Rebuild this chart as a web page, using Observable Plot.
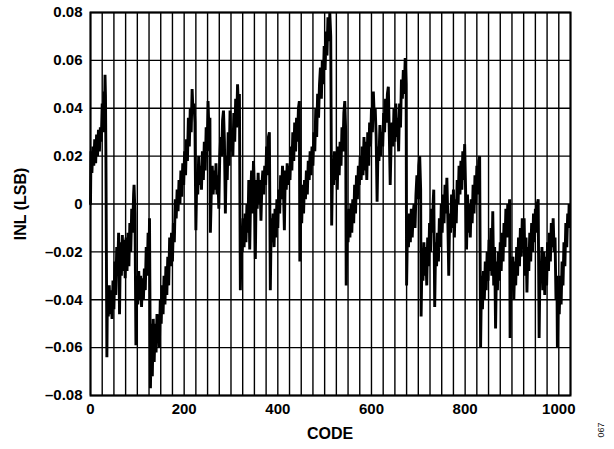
<!DOCTYPE html>
<html><head><meta charset="utf-8">
<script src="https://cdn.jsdelivr.net/npm/d3@7"></script>
<script src="https://cdn.jsdelivr.net/npm/@observablehq/plot@0.6"></script>
<style>
html,body{margin:0;padding:0;background:#fff;}
#chart{position:relative;width:614px;height:449px;}
</style></head><body><div id="chart"></div>
<script>
// INL (LSB) versus CODE
const code = [
  0,1,3,5,7,9,11,13,15,17,
  19,21,23,25,27,29,30,31,32,33,
  35,36,38,40,42,44,46,48,50,52,
  54,56,58,60,62,64,66,68,70,72,
  74,76,78,80,82,84,86,88,90,92,
  93,95,97,99,101,103,105,107,109,111,
  113,115,117,119,121,123,125,126,128,130,
  132,134,136,138,140,142,144,146,147,149,
  151,153,155,157,159,161,163,165,167,169,
  171,173,175,177,179,181,183,185,187,189,
  191,193,195,197,199,201,203,205,207,209,
  211,213,215,217,219,221,223,225,227,229,
  231,233,235,237,239,241,243,245,247,249,
  251,253,255,256,258,260,262,264,266,268,
  270,272,274,276,278,280,282,284,286,288,
  290,292,294,296,298,300,302,304,306,308,
  310,312,314,316,318,320,322,324,326,328,
  330,332,334,336,338,340,342,344,346,348,
  350,352,354,356,358,360,362,364,366,368,
  370,372,374,376,378,380,382,384,386,388,
  390,392,394,396,398,400,402,404,406,408,
  410,412,414,416,418,420,422,424,426,428,
  430,432,434,436,438,440,442,444,446,447,
  449,451,453,455,457,459,461,463,465,467,
  469,471,473,475,477,479,481,483,485,487,
  489,491,493,495,497,499,501,503,505,507,
  509,511,513,515,517,519,521,523,525,527,
  529,531,533,535,537,539,541,543,545,546,
  548,550,552,554,556,558,560,562,564,566,
  568,570,572,574,576,578,580,582,584,586,
  588,590,592,594,596,598,600,602,604,606,
  608,610,612,614,616,618,620,622,624,626,
  628,630,632,634,636,638,640,642,644,646,
  648,650,652,654,656,658,660,662,664,666,
  668,670,672,674,675,677,679,681,683,685,
  687,689,691,693,695,697,699,701,703,705,
  706,708,710,712,714,716,718,720,722,724,
  726,728,730,732,733,735,737,739,741,743,
  745,747,749,751,753,755,757,759,761,763,
  765,767,769,771,773,775,777,779,781,783,
  785,787,789,791,793,795,797,799,801,803,
  805,807,809,811,813,815,817,819,821,823,
  825,827,829,831,833,835,837,839,841,843,
  845,847,849,851,853,855,857,859,861,863,
  865,867,869,871,873,875,877,879,881,883,
  885,887,889,891,893,895,896,898,900,902,
  904,906,908,910,912,914,916,918,920,922,
  924,926,928,930,932,934,936,938,940,942,
  944,946,948,950,952,954,956,958,960,962,
  964,966,968,970,972,974,976,978,980,982,
  984,986,988,990,992,994,996,997,999,1001,
  1003,1005,1007,1009,1011,1013,1015,1017,1019,1021,
  1022,1023
];
const inl = [
  0,0.022,0.013,0.024,0.016,0.027,0.017,0.029,0.020,0.031,
  0.022,0.032,0.026,0.042,0.030,0.047,0.040,0.054,0.045,0.017,
  -0.064,-0.038,-0.047,-0.034,-0.046,-0.036,-0.048,-0.032,-0.044,-0.024,
  -0.038,-0.018,-0.030,-0.012,-0.046,-0.016,-0.030,-0.013,-0.028,-0.015,
  -0.031,-0.014,-0.028,-0.012,-0.026,-0.008,-0.020,-0.002,-0.012,0.004,
  0.008,-0.004,-0.059,-0.030,-0.042,-0.028,-0.040,-0.030,-0.043,-0.031,
  -0.040,-0.027,-0.036,-0.018,-0.030,-0.012,-0.024,-0.006,-0.077,-0.050,
  -0.072,-0.048,-0.066,-0.050,-0.062,-0.046,-0.058,-0.052,-0.060,-0.040,
  -0.050,-0.034,-0.046,-0.030,-0.042,-0.026,-0.038,-0.022,-0.034,-0.014,
  -0.026,-0.012,-0.024,-0.008,-0.016,0.002,-0.006,0.006,-0.003,0.010,
  0.000,0.014,0.003,0.017,0.008,0.022,0.012,0.027,0.018,0.036,
  0.024,0.040,0.030,0.048,0.038,0.042,0.034,-0.011,0.012,0.004,
  0.020,0.008,0.016,0.006,0.022,0.010,0.026,0.014,0.032,0.022,
  0.043,0.030,0.036,-0.012,0.005,0.016,0.004,0.014,0.006,0.017,
  0.004,0.012,-0.002,0.020,0.028,0.020,0.035,0.039,0.026,-0.004,
  0.020,0.010,0.030,0.016,0.039,0.022,0.030,0.020,0.038,0.026,
  0.044,0.032,0.050,0.040,0.046,-0.036,-0.012,-0.020,-0.006,-0.018,
  -0.004,-0.016,0.000,-0.012,0.010,-0.019,0.004,0.014,-0.004,0.018,
  0.006,-0.023,0.010,-0.002,0.013,0.000,0.010,-0.007,0.008,0.014,
  0.004,0.016,0.008,0.024,0.012,0.028,0.030,-0.036,-0.006,-0.016,
  -0.004,-0.018,-0.002,-0.014,0.002,-0.010,0.006,-0.004,0.012,0.002,
  0.016,0.006,-0.011,0.014,0.006,0.017,0.008,0.016,0.010,0.024,
  0.014,0.030,0.018,0.034,0.022,0.036,0.026,0.040,0.043,-0.024,
  0.000,-0.008,0.008,-0.004,0.010,0.002,0.014,0.004,0.018,0.010,
  0.022,0.012,0.024,0.016,0.030,0.022,0.040,0.028,0.046,0.036,
  0.050,0.057,0.044,0.060,0.050,0.066,0.056,0.072,0.062,0.078,
  0.068,0.080,0.070,-0.009,0.018,0.008,0.022,0.010,0.020,0.006,
  0.024,0.012,0.026,0.016,0.032,0.022,0.038,0.043,0.030,-0.034,
  -0.006,-0.016,-0.002,-0.014,0.000,-0.012,0.002,-0.008,0.008,-0.004,
  0.012,0.002,0.016,0.008,0.020,0.010,0.024,0.012,0.028,0.014,
  0.026,0.010,0.030,0.016,0.034,0.024,0.040,0.030,0.047,0.036,
  0.040,0.028,0.001,0.024,0.018,0.033,0.020,0.030,0.024,0.038,
  0.030,0.044,0.034,0.046,0.049,0.030,0.008,0.026,0.034,0.024,
  0.040,0.026,0.042,0.028,0.036,0.022,0.042,0.032,0.052,0.044,
  0.056,0.046,0.061,0.050,-0.034,-0.008,-0.018,-0.004,-0.016,-0.002,
  -0.014,-0.004,0.000,-0.010,0.004,0.012,0.002,0.016,0.020,0.006,
  -0.047,-0.020,-0.032,-0.016,-0.030,-0.018,-0.034,-0.014,-0.026,-0.008,
  -0.020,-0.002,-0.012,0.002,0.006,-0.043,-0.016,-0.026,-0.012,-0.024,
  -0.006,-0.018,0.000,-0.012,0.004,-0.008,0.008,-0.004,0.011,-0.006,
  -0.030,-0.004,-0.012,0.004,-0.010,0.006,-0.014,0.002,-0.008,0.010,
  0.000,0.016,0.004,0.018,0.006,0.022,0.010,0.025,0.006,-0.019,
  0.004,-0.012,0.000,-0.014,0.002,-0.008,0.008,-0.004,0.012,0.000,
  0.016,0.004,0.018,0.020,-0.060,-0.030,-0.044,-0.028,-0.040,-0.024,
  -0.036,-0.020,-0.032,-0.015,-0.028,-0.010,-0.030,-0.003,-0.034,-0.018,
  -0.052,-0.024,-0.036,-0.020,-0.032,-0.016,-0.028,-0.012,-0.024,-0.008,
  -0.018,-0.002,-0.014,0.000,-0.008,0.002,-0.056,-0.024,-0.036,-0.022,
  -0.040,-0.024,-0.034,-0.018,-0.030,-0.014,-0.026,-0.010,-0.022,-0.006,
  -0.016,-0.006,-0.030,-0.014,-0.037,-0.018,-0.028,-0.012,-0.024,-0.008,
  -0.020,-0.004,-0.016,-0.002,-0.012,0.000,0.002,-0.056,-0.024,-0.032,
  -0.018,-0.036,-0.020,-0.038,-0.022,-0.034,-0.016,-0.028,-0.012,-0.024,
  -0.008,-0.018,-0.006,-0.020,-0.014,-0.040,-0.030,-0.060,-0.036,-0.046,
  -0.030,-0.042,-0.024,-0.034,-0.016,-0.026,-0.008,-0.018,-0.004,-0.010,
  0.000,-0.004
];
const xTicks = [0, 200, 400, 600, 800, 1000];
const yTicks = [-0.08, -0.06, -0.04, -0.02, 0, 0.02, 0.04, 0.06, 0.08];
const xGridLines = [0,25,50,75,100,125,150,175,200,225,250,275,300,325,350,375,400,425,450,475,500,525,550,575,600,625,650,675,700,725,750,775,800,825,850,875,900,925,950,975,1000,1025];
const xTitle = "CODE";
const yTitle = "INL (LSB)";
const figureId = "067";

const data = code.map((c, i) => ({code: c, inl: inl[i]}));
const fmtY = d => d === 0 ? "0" : (d < 0 ? "\u2013" : "") + Math.abs(d).toFixed(2);
const FONT = "'Liberation Sans', Arial, Helvetica, sans-serif";

const svg = Plot.plot({
  width: 614, height: 449,
  marginLeft: 90, marginRight: 44, marginTop: 12, marginBottom: 54,
  style: {fontFamily: FONT, fontSize: "15px", fontWeight: "bold", background: "#fff", color: "#000", overflow: "visible"},
  x: {domain: [0, 1025]},
  y: {domain: [-0.08, 0.08]},
  marks: [
    Plot.ruleX(xGridLines, {stroke: "#000", strokeWidth: 1.4}),
    Plot.ruleY(yTicks, {stroke: "#000", strokeWidth: 1.4}),
    Plot.line(data, {x: "code", y: "inl", stroke: "#000", strokeWidth: 2.9, strokeLinejoin: "miter", strokeMiterlimit: 2}),
    Plot.frame({stroke: "#000", strokeWidth: 2}),
    Plot.axisX({ticks: xTicks, tickSize: 0, tickPadding: 8, label: null, tickFormat: d => String(d)}),
    Plot.axisY({ticks: yTicks, tickSize: 0, tickPadding: 8, label: null, tickFormat: fmtY})
  ]
});
document.getElementById("chart").appendChild(svg);

const s = d3.select(svg);
s.append("text").attr("x", 330).attr("y", 439).attr("text-anchor", "middle")
  .attr("font-family", FONT).attr("font-size", 16).attr("font-weight", "bold").attr("fill", "#000").text(xTitle);
s.append("text").attr("transform", "translate(26,204) rotate(-90)").attr("text-anchor", "middle")
  .attr("font-family", FONT).attr("font-size", 16).attr("font-weight", "bold").attr("fill", "#000").text(yTitle);
s.append("text").attr("transform", "translate(604,430) rotate(-90)").attr("text-anchor", "middle")
  .attr("font-family", FONT).attr("font-size", 9).attr("font-weight", "normal").attr("fill", "#222").text(figureId);
</script></body></html>
